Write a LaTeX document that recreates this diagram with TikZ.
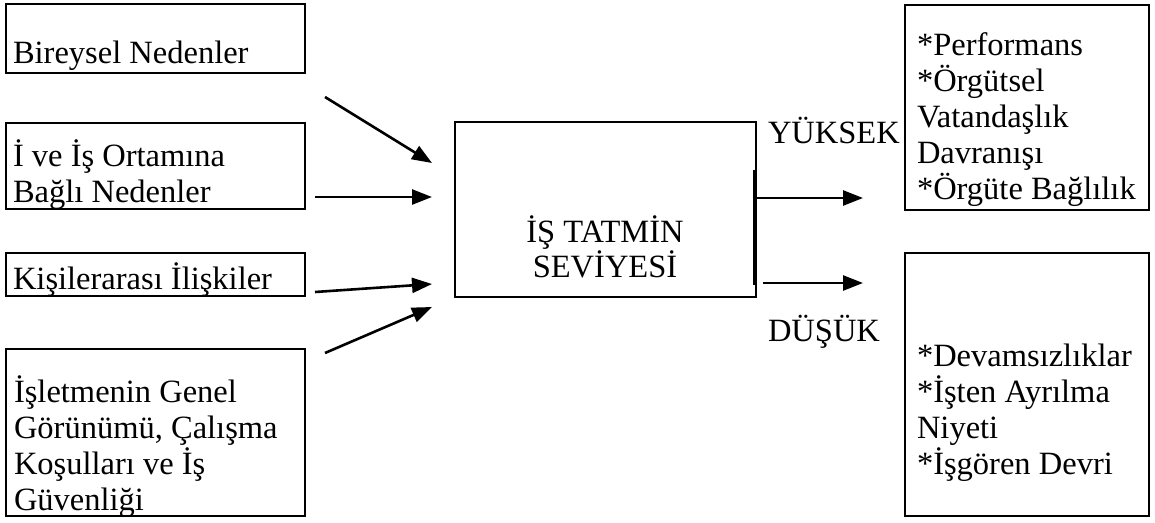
\documentclass[tikz,border=0pt]{standalone}
\usepackage{fontspec}
\setmainfont{Liberation Serif}
\usetikzlibrary{arrows.meta}
\begin{document}
\begin{tikzpicture}[x=1pt,y=-1pt,
  frame/.style={draw, line width=2.4pt},
  txt/.style={anchor=base west, inner sep=0pt, outer sep=0pt, font=\fontsize{32.5}{36.2}\selectfont},
  ctxt/.style={anchor=base, inner sep=0pt, outer sep=0pt, font=\fontsize{32.5}{35}\selectfont},
  arr/.style={line width=2.6pt, -{Triangle[length=20pt,width=15pt]}}]
\useasboundingbox (0,0) rectangle (1155,522);

% left-hand cause boxes
\draw[frame] (6,4) rectangle (305,73);
\node[txt] (t1) at (13,63) {Bireysel Nedenler};
\draw[frame] (6,123) rectangle (305,209);
\node[txt] (t2) at (13,166) {\vtop{\hbox{İ ve İş Ortamına}\hbox{Bağlı Nedenler}}};
\draw[frame] (6,253) rectangle (305,296);
\node[txt] (t3) at (13,289) {Kişilerarası İlişkiler};
\draw[frame] (6,349) rectangle (305,516);
\node[txt] (t4) at (14,402) {\vtop{\hbox{İşletmenin Genel}\hbox{Görünümü, Çalışma}\hbox{Koşulları ve İş}\hbox{Güvenliği}}};

% central box
\draw[frame] (455,122) rectangle (756,297);
\node[ctxt] (c) at (605,242) {\vtop{\hbox to 0pt{\hss İŞ TATMİN\hss}\hbox to 0pt{\hss SEVİYESİ\hss}}};
\draw[line width=2pt] (753.5,170) -- (753.5,285);

% outcome boxes
\draw[frame] (905,5) rectangle (1149,210);
\node[txt] (r1) at (917,55) {\vtop{\hbox{*Performans}\hbox{*Örgütsel}\hbox{Vatandaşlık}\hbox{Davranışı}\hbox{*Örgüte Bağlılık}}};
\draw[frame] (905,253) rectangle (1149,516);
\node[txt] (r2) at (917,366) {\vtop{\hbox{*Devamsızlıklar}\hbox{*İşten Ayrılma}\hbox{Niyeti}\hbox{*İşgören Devri}}};

\node[txt] (hi) at (768,143) {YÜKSEK};
\node[txt] (lo) at (768,341) {DÜŞÜK};

% connector end points
\coordinate (a1s) at (325,97);  \coordinate (a1e) at (432,163);
\coordinate (a2s) at (315,197); \coordinate (a2e) at (432,197);
\coordinate (a3s) at (315,292); \coordinate (a3e) at (432,284);
\coordinate (a4s) at (325,353); \coordinate (a4e) at (432,307);
\coordinate (hs) at (755,198);  \coordinate (he) at (863,198);
\coordinate (ls) at (763,283);  \coordinate (le) at (863,283);

\draw[arr] (a1s) -- (a1e);
\draw[arr] (a2s) -- (a2e);
\draw[arr] (a3s) -- (a3e);
\draw[arr] (a4s) -- (a4e);
\draw[arr] (hs) -- (he);
\draw[arr] (ls) -- (le);
\end{tikzpicture}
\end{document}
